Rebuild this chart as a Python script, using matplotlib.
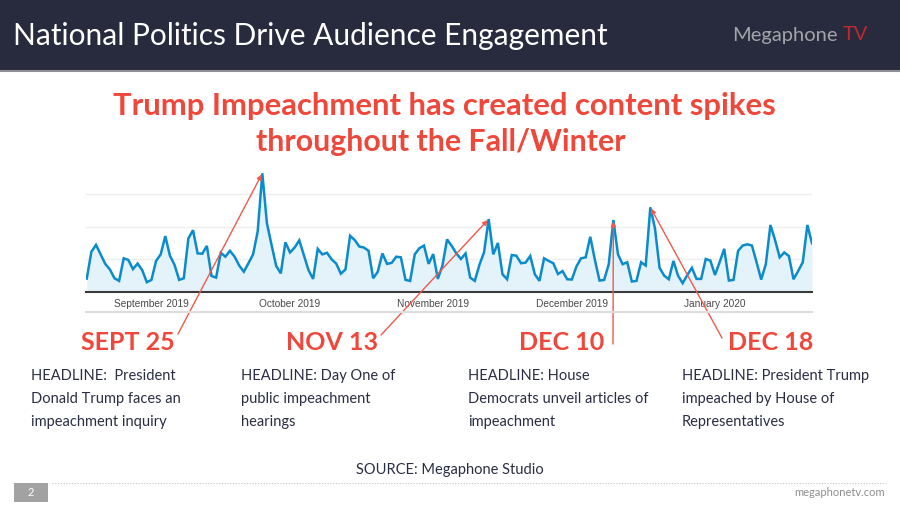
import matplotlib
matplotlib.use("Agg")
import matplotlib.pyplot as plt
import matplotlib.dates as mdates
from matplotlib.patches import Rectangle
from matplotlib.lines import Line2D
import pandas as pd

# daily engagement (relative units), Aug 18 2019 .. Jan 22 2020
start_day = "2019-08-18"
engagement = [
    0.41, 1.23, 1.44, 1.15, 0.86, 0.69, 0.42, 0.34, 1.03, 0.98,
    0.70, 0.87, 0.67, 0.30, 0.37, 0.95, 1.15, 1.71, 1.11, 0.83,
    0.37, 0.42, 1.64, 1.89, 1.18, 1.17, 1.41, 0.49, 0.44, 1.20,
    1.08, 1.26, 1.08, 0.81, 0.62, 0.88, 1.15, 1.85, 3.63, 2.10,
    1.44, 0.80, 0.57, 1.52, 1.21, 1.36, 1.58, 1.13, 0.67, 0.40,
    1.32, 1.15, 1.20, 1.00, 0.87, 0.56, 0.69, 1.72, 1.59, 1.39,
    1.36, 1.26, 0.42, 0.62, 1.18, 0.86, 0.89, 1.08, 1.06, 0.37,
    0.34, 1.15, 1.34, 1.42, 0.86, 1.16, 0.40, 0.81, 1.61, 1.41,
    1.18, 1.01, 1.18, 0.44, 0.34, 0.83, 1.21, 2.23, 1.15, 1.50,
    0.54, 0.39, 1.13, 1.11, 0.88, 0.90, 1.10, 0.54, 0.34, 1.03,
    0.95, 0.88, 0.55, 0.64, 0.39, 0.38, 0.78, 1.03, 1.06, 1.69,
    0.98, 0.35, 0.37, 0.85, 2.20, 1.15, 0.85, 0.91, 0.32, 0.34,
    0.91, 0.81, 2.59, 1.95, 0.74, 0.50, 0.39, 0.95, 0.50, 0.27,
    0.52, 0.74, 0.40, 0.40, 1.01, 0.96, 0.52, 0.91, 1.32, 0.35,
    0.37, 1.26, 1.42, 1.46, 1.42, 0.91, 0.38, 0.85, 2.05, 1.59,
    1.06, 1.21, 1.10, 0.39, 0.64, 0.91, 2.05, 1.49,
]
days = pd.date_range(start_day, periods=len(engagement), freq="D")

month_ticks = ["2019-09-01", "2019-10-01", "2019-11-01", "2019-12-01", "2020-01-01"]
month_labels = ["September 2019", "October 2019", "November 2019", "December 2019", "January 2020"]

event_dates = ["2019-09-25", "2019-11-13", "2019-12-10", "2019-12-18"]
event_labels = ["SEPT 25", "NOV 13", "DEC 10", "DEC 18"]
headlines = [
    ["HEADLINE:  President", "Donald Trump faces an", "impeachment inquiry"],
    ["HEADLINE: Day One of", "public impeachment", "hearings"],
    ["HEADLINE: House", "Democrats unveil articles of", "impeachment"],
    ["HEADLINE: President Trump", "impeached by House of", "Representatives"],
]

W, H = 900, 507
RED = "#f0473b"
NAVY = "#2a2e44"
FONT = "Lato"


def fx(x):
    return x / W


def fy(y):
    return 1 - y / H


fig = plt.figure(figsize=(9, 5.07), dpi=100)
fig.patch.set_facecolor("white")

# header band
fig.add_artist(Rectangle((0, fy(70)), 1, 70 / H, transform=fig.transFigure,
                         facecolor="#272b3d", edgecolor="none"))
fig.add_artist(Line2D([0, 1], [fy(71), fy(71)], transform=fig.transFigure,
                      color="#8e8e95", lw=1.5))
fig.text(fx(13), fy(36), "National Politics Drive Audience Engagement", color="white",
         fontsize=21.5, family=FONT, ha="left", va="center")
fig.text(fx(838), fy(35), "Megaphone", color="#a3a3a8", fontsize=14.5,
         family=FONT, ha="right", va="center")
fig.text(fx(843), fy(35), "TV", color="#c1272d", fontsize=14.5,
         family=FONT, ha="left", va="center")

# subtitle
fig.text(0.494, fy(106), "Trump Impeachment has created content spikes", color=RED,
         fontsize=22.3, family=FONT, fontweight="bold", ha="center", va="center")
fig.text(0.49, fy(142), "throughout the Fall/Winter", color=RED,
         fontsize=21.8, family=FONT, fontweight="bold", ha="center", va="center")

# chart
ymax = 3.8
ax = fig.add_axes([fx(86), fy(292), fx(812) - fx(86), ymax * 32.7 / H])
ax.fill_between(days, engagement, 0, color="#e4f2fa", lw=0)
ax.plot(days, engagement, color="#0a8bcc", lw=1.8, solid_joinstyle="miter")
ax.set_xlim(days[0] - pd.Timedelta(hours=4), days[-1])
ax.set_ylim(0, ymax)
ax.set_yticks([1, 2, 3])
ax.yaxis.grid(True, color="#eeeeee", lw=1)
ax.set_yticklabels([])
ax.tick_params(axis="y", length=0)
ax.set_xticks(pd.to_datetime(month_ticks))
ax.set_xticklabels(month_labels, fontsize=7.3, color="#4a4a4a", family="Liberation Sans")
ax.tick_params(axis="x", length=0, pad=5)
for side in ["top", "left", "right"]:
    ax.spines[side].set_visible(False)
ax.spines["bottom"].set_color("#3a3a3a")
ax.spines["bottom"].set_linewidth(1.5)
ax.set_facecolor("none")
ax.set_axisbelow(True)

fig.add_artist(Line2D([fx(86), fx(812)], [fy(312), fy(312)], transform=fig.transFigure,
                      color="#dddddd", lw=1.5))

# event annotations
arrow_from = [(178, 334), (381, 335), (613, 344), (722, 338)]
label_x = [128, 332, 562, 771]
text_x = [31, 241, 468, 682]
value_of = dict(zip(days, engagement))
for d, lab, (sx, sy), lx, tx, lines in zip(event_dates, event_labels, arrow_from,
                                           label_x, text_x, headlines):
    d = pd.Timestamp(d)
    ax.annotate("", xy=(mdates.date2num(d), value_of[d]), xycoords="data",
                xytext=(sx, H - sy), textcoords="figure pixels",
                arrowprops=dict(arrowstyle="-|>", color="#f0594b", lw=1.0,
                                mutation_scale=7, shrinkA=0, shrinkB=1),
                annotation_clip=False)
    fig.text(fx(lx), fy(343), lab, color=RED, fontsize=18, family=FONT,
             fontweight="bold", ha="center", va="center")
    for k, line in enumerate(lines):
        fig.text(fx(tx), fy(376 + 23 * k), line, color=NAVY, fontsize=10.5,
                 family=FONT, ha="left", va="center")

# footer
fig.text(0.5, fy(470), "SOURCE: Megaphone Studio", color=NAVY, fontsize=10.5,
         family=FONT, ha="center", va="center")
fig.add_artist(Line2D([fx(52), fx(886)], [fy(483), fy(483)], transform=fig.transFigure,
                      color="#c4c4c4", lw=0.8, linestyle=(0, (1, 1.5))))
fig.add_artist(Rectangle((fx(14), fy(502)), fx(48) - fx(14), 19 / H,
                         transform=fig.transFigure, facecolor="#a2a2a2", edgecolor="none"))
fig.text(fx(31), fy(492.5), "2", color="white", fontsize=8, family=FONT,
         ha="center", va="center")
fig.text(fx(885), fy(493), "megaphonetv.com", color="#8d8d8d", fontsize=8,
         family=FONT, ha="right", va="center")

fig.savefig("out.png", dpi=100)
